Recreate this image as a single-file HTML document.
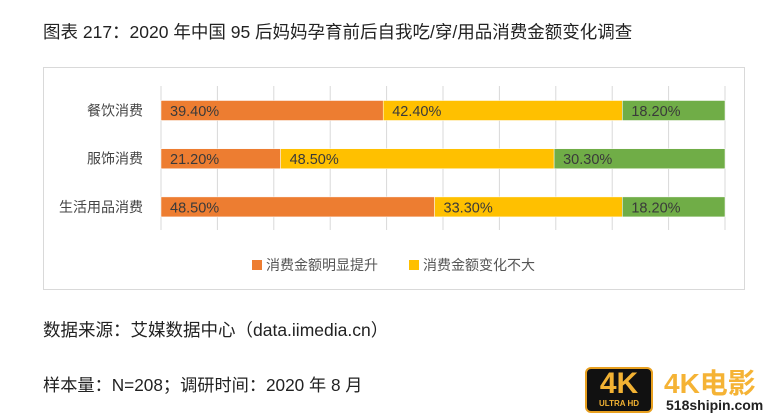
<!DOCTYPE html>
<html><head><meta charset="utf-8"><style>
body{margin:0;width:781px;height:419px;background:#fff;font-family:"Liberation Sans","Noto Sans CJK SC",sans-serif;position:relative;overflow:hidden}
.t{position:absolute;white-space:nowrap;color:#222}
</style></head><body>
<div class="t" style="left:43px;top:19px;font-size:17.5px">图表 217：2020 年中国 95 后妈妈孕育前后自我吃/穿/用品消费金额变化调查</div>
<div style="position:absolute;left:43px;top:67px;width:700px;height:221px;border:1px solid #d9d9d9"></div>
<svg id="chart" width="781" height="419" style="position:absolute;left:0;top:0"></svg>
<div class="t" style="left:43px;top:317px;font-size:17.5px">数据来源：艾媒数据中心（data.iimedia.cn）</div>
<div class="t" style="left:43px;top:371px;font-size:17.2px">样本量：N=208；调研时间：2020 年 8 月</div>
<div style="position:absolute;left:585px;top:367px;width:68px;height:46px;background:#111;border:2px solid #e8a020;border-radius:6px;box-sizing:border-box;text-align:center;color:#f2b233;font-weight:bold">
<div style="font-size:30px;line-height:30px">4K</div><div style="font-size:8px;line-height:10px">ULTRA HD</div></div>
<div class="t" style="left:664px;top:362px;font-size:28px;font-weight:bold;color:#f5b335">4K电影</div>
<div class="t" style="left:666px;top:397px;font-size:14px;font-weight:bold;color:#222">518shipin.com</div>
<script>
const categories=["餐饮消费","服饰消费","生活用品消费"];
const seriesUp=[39.4,21.2,48.5];
const seriesSame=[42.4,48.5,33.3];
const seriesDown=[18.2,30.3,18.2];
const seriesNames=["消费金额明显提升","消费金额变化不大"];
const colors=["#ed7d31","#ffc000","#70ad47"];
const ns="http://www.w3.org/2000/svg",svg=document.getElementById("chart");
const X0=161,X1=725,yTop=86,yBot=230;
const x=v=>X0+(X1-X0)*v/100;
const rowY=i=>100.5+i*48.2;const BH=20;
function mk(t,a){const e=document.createElementNS(ns,t);for(const k in a)e.setAttribute(k,a[k]);svg.appendChild(e);return e;}
for(let g=0;g<=100;g+=10){const l=mk("line",{x1:x(g),x2:x(g),y1:yTop,y2:yBot,stroke:"#d9d9d9","stroke-width":1});

}
const all=[seriesUp,seriesSame,seriesDown];
categories.forEach((c,i)=>{
 const lab=mk("text",{x:143,y:rowY(i)+BH/2+5,"text-anchor":"end","font-size":14,fill:"#444"});lab.textContent=c;
 
 
 let acc=0;
 all.forEach((s,k)=>{
  const r=mk("rect",{x:x(acc),y:rowY(i),width:x(acc+s[i])-x(acc),height:BH,fill:colors[k],stroke:"#fff","stroke-width":0.5});
  
  
  const t=mk("text",{x:x(acc)+9,y:rowY(i)+BH/2+5.5,"font-size":14.5,fill:"#3a3a3a"});t.textContent=s[i].toFixed(2)+"%";
  
  
  acc+=s[i];
 });
});
const lx=[252,409];
seriesNames.forEach((n,k)=>{
 const r=mk("rect",{x:lx[k],y:260,width:10,height:10,fill:colors[k]});
 
 
 const t=mk("text",{x:lx[k]+14,y:270,"font-size":14,fill:"#555"});t.textContent=n;
 
 
});
</script>
</body></html>
